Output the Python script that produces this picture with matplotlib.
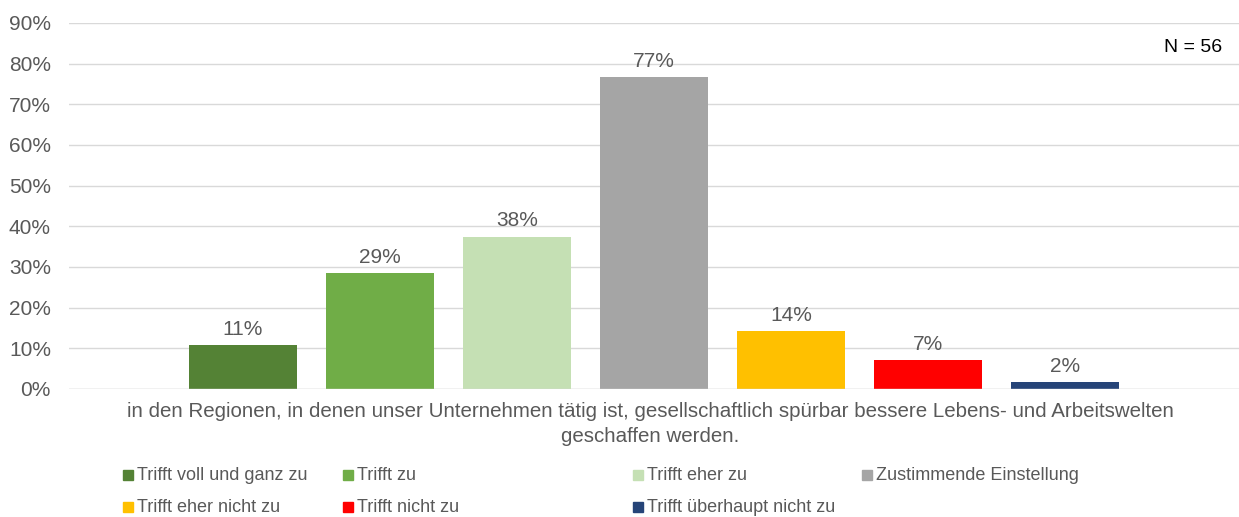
import numpy as np
import matplotlib.pyplot as plt
from matplotlib.patches import Rectangle

plt.rcParams['font.family'] = ['Liberation Sans', 'DejaVu Sans']

labels = ['Trifft voll und ganz zu', 'Trifft zu', 'Trifft eher zu', 'Zustimmende Einstellung',
          'Trifft eher nicht zu', 'Trifft nicht zu', 'Trifft überhaupt nicht zu']
values = [10.7, 28.6, 37.5, 76.8, 14.3, 7.1, 1.8]
value_labels = ['11%', '29%', '38%', '77%', '14%', '7%', '2%']
colors = ['#548235', '#70AD47', '#C5E0B4', '#A5A5A5', '#FFC000', '#FF0000', '#264478']
category = 'in den Regionen, in denen unser Unternehmen tätig ist, gesellschaftlich spürbar bessere Lebens- und Arbeitswelten\ngeschaffen werden.'
n_text = 'N = 56'

txt = '#595959'

fig = plt.figure(figsize=(12.39, 5.17), dpi=100)
ax = fig.add_axes([69 / 1239, 1 - 389 / 517, (1239 - 69) / 1239, (389 - 23) / 517])

x = np.arange(len(values))
ax.bar(x, values, width=0.79, color=colors, zorder=3)
for xi, v, lab in zip(x, values, value_labels):
    ax.text(xi, v + 1.5, lab, ha='center', va='bottom', fontsize=15, color=txt)

ax.set_xlim(-1.27, 7.27)
ax.set_ylim(0, 90)
ax.set_yticks(np.arange(0, 91, 10))
ax.set_yticklabels([f'{t}%' for t in range(0, 91, 10)], fontsize=15, color=txt)
ax.grid(axis='y', color='#D9D9D9', linewidth=1, zorder=0)
ax.set_xticks([])
ax.tick_params(axis='y', length=0, pad=13)
for s in ax.spines.values():
    s.set_visible(False)
ax.axhline(0, color='#D9D9D9', linewidth=1, zorder=4)

fig.text(650 / 1239, 1 - 402 / 517, category, ha='center', va='top', fontsize=14.8,
         color=txt, linespacing=1.4)
fig.text(1222 / 1239, 1 - 47 / 517, n_text, ha='right', va='center', fontsize=14, color='black')

# Legende wie in Excel, manuell gesetzt
leg_x = [123, 343, 633, 862]
leg_y = [475, 507]
for i, (lab, c) in enumerate(zip(labels, colors)):
    col = i % 4
    row = i // 4
    px, py = leg_x[col], leg_y[row]
    fig.patches.append(Rectangle((px / 1239, 1 - (py + 5) / 517), 10 / 1239, 10 / 517,
                                 transform=fig.transFigure, color=c))
    fig.text((px + 14) / 1239, 1 - py / 517, lab, ha='left', va='center', fontsize=13, color=txt)

plt.savefig('out.png', dpi=100)
